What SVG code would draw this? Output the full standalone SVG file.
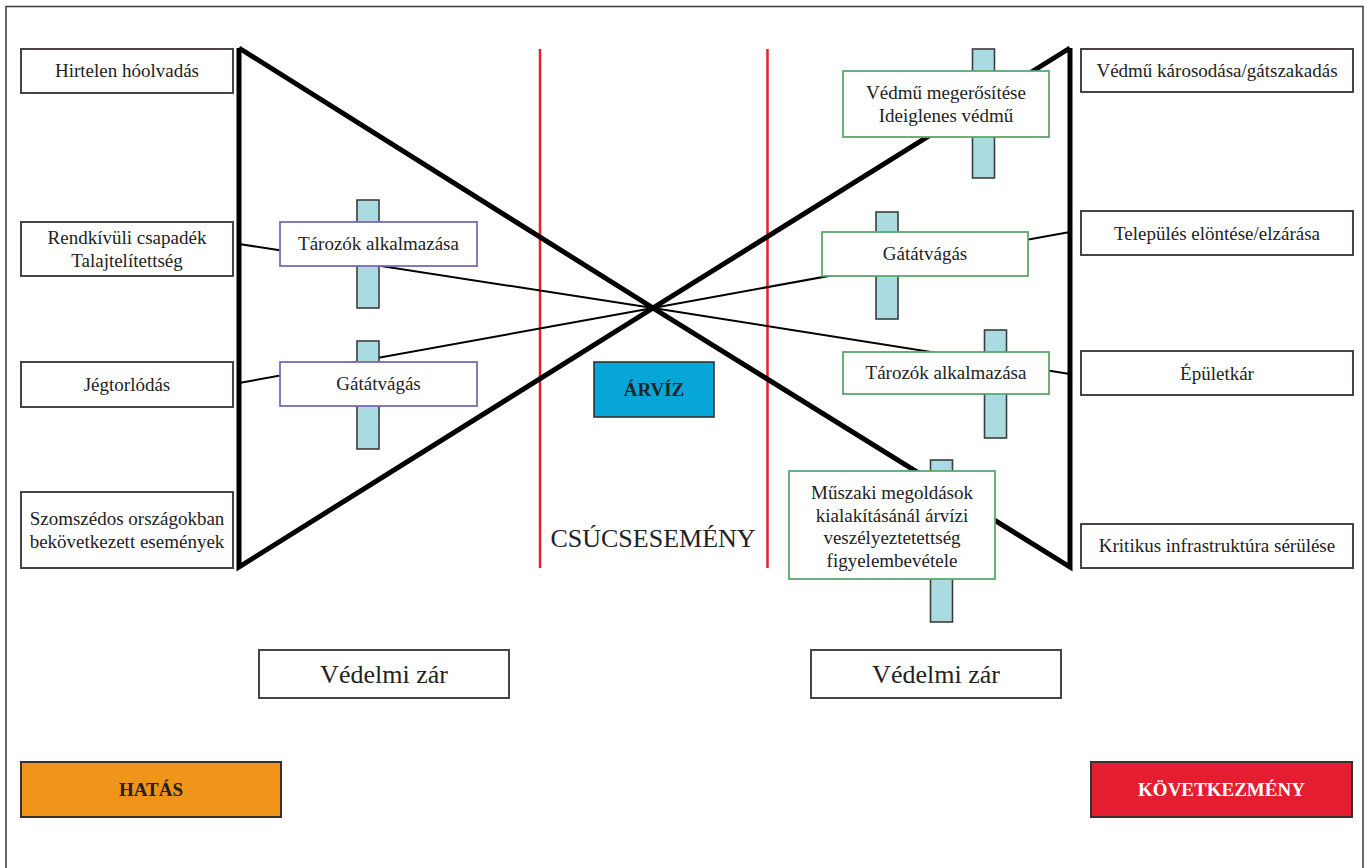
<svg xmlns="http://www.w3.org/2000/svg" width="1367" height="868" viewBox="0 0 1367 868">
<style>
.t{font-family:"Liberation Serif","Times New Roman",serif;font-size:19px;fill:#222;text-anchor:middle}
.big{font-size:26px}
.b{font-weight:bold}
.box{fill:#fff;stroke:#4a4343;stroke-width:2}
.pur{fill:#fff;stroke:#7a6ab4;stroke-width:1.8}
.grn{fill:#fff;stroke:#5aa86a;stroke-width:1.8}
.post{fill:#a9dbe0;stroke:#3c3c3c;stroke-width:1.6}
.thick{stroke:#000;stroke-width:5;fill:none;stroke-linejoin:miter}
.thin{stroke:#000;stroke-width:2;fill:none}
.red{stroke:#e8202a;stroke-width:2.5}
</style>
<rect x="0" y="0" width="1367" height="868" fill="#fff"/>
<rect x="6" y="6.5" width="1357" height="875" fill="none" stroke="#444" stroke-width="1.6"/>

<g id="connectors">
  <line class="red" x1="540" y1="49" x2="540" y2="568"/>
  <line class="red" x1="767.5" y1="49" x2="767.5" y2="568"/>
  <line class="thin" x1="239" y1="244" x2="653" y2="308"/>
  <line class="thin" x1="239" y1="383" x2="653" y2="308"/>
  <line class="thin" x1="653" y1="308" x2="1070" y2="232"/>
  <line class="thin" x1="653" y1="308" x2="1070" y2="374"/>
  <polyline class="thick" points="239,48 239,567 653,308 239,48"/>
  <polyline class="thick" points="1070,48 1070,567 653,308 1070,48"/>
</g>

<g id="posts">
  <rect class="post" x="357" y="200" width="22" height="108"/>
  <rect class="post" x="357" y="341" width="22" height="108"/>
  <rect class="post" x="972.5" y="49" width="22" height="129"/>
  <rect class="post" x="876" y="212" width="22" height="107"/>
  <rect class="post" x="984.5" y="330" width="22" height="108"/>
  <rect class="post" x="930.5" y="460" width="22" height="162"/>
</g>

<g id="cause-hirtelen"><rect class="box" x="21" y="49" width="212" height="44"/><text class="t" x="127" y="77">Hirtelen hóolvadás</text></g>
<g id="cause-rendkivuli"><rect class="box" x="21" y="222" width="212" height="54"/><text class="t" x="127" y="244">Rendkívüli csapadék</text><text class="t" x="127" y="267">Talajtelítettség</text></g>
<g id="cause-jeg"><rect class="box" x="21" y="362" width="212" height="45"/><text class="t" x="127" y="391">Jégtorlódás</text></g>
<g id="cause-szomszed"><rect class="box" x="21" y="492" width="212" height="76"/><text class="t" x="127" y="525">Szomszédos országokban</text><text class="t" x="127" y="548">bekövetkezett események</text></g>

<g id="left-tarozok"><rect class="pur" x="280" y="222" width="197" height="44"/><text class="t" x="378.5" y="250">Tározók alkalmazása</text></g>
<g id="left-gat"><rect class="pur" x="280" y="362" width="197" height="44"/><text class="t" x="378.5" y="390">Gátátvágás</text></g>

<g id="arviz"><rect x="594" y="362" width="120" height="55" fill="#07a6d8" stroke="#333" stroke-width="1.6"/><text class="t b" x="654" y="396">ÁRVÍZ</text></g>
<g id="csucs"><text class="t big" x="653" y="547">CSÚCSESEMÉNY</text></g>

<g id="right-vedmu"><rect class="grn" x="843" y="71" width="206" height="66"/><text class="t" x="946" y="99">Védmű megerősítése</text><text class="t" x="946" y="122">Ideiglenes védmű</text></g>
<g id="right-gat"><rect class="grn" x="822" y="232" width="206" height="44"/><text class="t" x="925" y="260">Gátátvágás</text></g>
<g id="right-tarozok"><rect class="grn" x="843" y="352" width="206" height="42"/><text class="t" x="946" y="379">Tározók alkalmazása</text></g>
<g id="right-muszaki"><rect class="grn" x="789" y="471" width="206" height="108"/><text class="t" x="892" y="499">Műszaki megoldások</text><text class="t" x="892" y="522">kialakításánál árvízi</text><text class="t" x="892" y="544">veszélyeztetettség</text><text class="t" x="892" y="567">figyelembevétele</text></g>

<g id="cons-vedmu"><rect class="box" x="1081" y="49" width="272" height="43"/><text class="t" x="1217" y="77">Védmű károsodása/gátszakadás</text></g>
<g id="cons-telepules"><rect class="box" x="1081" y="211" width="272" height="44"/><text class="t" x="1217" y="240">Település elöntése/elzárása</text></g>
<g id="cons-epulet"><rect class="box" x="1081" y="351" width="272" height="44"/><text class="t" x="1217" y="380">Épületkár</text></g>
<g id="cons-kritikus"><rect class="box" x="1081" y="524" width="272" height="44"/><text class="t" x="1217" y="552">Kritikus infrastruktúra sérülése</text></g>

<g id="zar-left"><rect class="box" x="259" y="650" width="250" height="48"/><text class="t big" x="384" y="683">Védelmi zár</text></g>
<g id="zar-right"><rect class="box" x="811" y="650" width="250" height="48"/><text class="t big" x="936" y="683">Védelmi zár</text></g>

<g id="hatas"><rect x="21" y="762" width="260" height="55" fill="#f0941a" stroke="#3a3030" stroke-width="2"/><text class="t b" x="151" y="796">HATÁS</text></g>
<g id="kovetkezmeny"><rect x="1091" y="762" width="261" height="55" fill="#e41e30" stroke="#3a3030" stroke-width="2"/><text class="t b" x="1221.5" y="796" style="fill:#fff">KÖVETKEZMÉNY</text></g>
</svg>
